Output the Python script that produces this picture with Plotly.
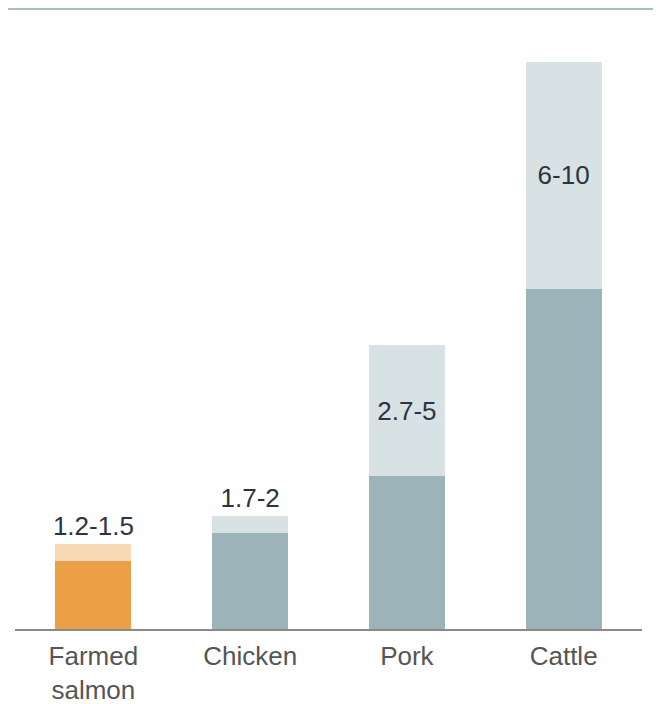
import plotly.graph_objects as go

categories = ["Farmed<br>salmon", "Chicken", "Pork", "Cattle"]
low_values = [1.2, 1.7, 2.7, 6]
high_values = [1.5, 2, 5, 10]
range_labels = ["1.2-1.5", "1.7-2", "2.7-5", "6-10"]

dark_colors = ["#eb9f46", "#9cb3ba", "#9cb3ba", "#9cb3ba"]
light_colors = ["#f7d9b6", "#d8e1e4", "#d8e1e4", "#d8e1e4"]
label_positions = ["outside", "outside", "inside", "inside"]

extra = [h - l for h, l in zip(high_values, low_values)]

FONT = "Liberation Sans, Arial, sans-serif"

fig = go.Figure()
fig.add_trace(go.Bar(
    x=categories, y=low_values, marker=dict(color=dark_colors, line=dict(width=0)),
    width=0.485, hoverinfo="skip", showlegend=False,
))
fig.add_trace(go.Bar(
    x=categories, y=extra, marker=dict(color=light_colors, line=dict(width=0)),
    width=0.485, text=range_labels, textposition=label_positions,
    insidetextanchor="middle", cliponaxis=False,
    textfont=dict(family=FONT, size=26, color="#2b3440"),
    insidetextfont=dict(family=FONT, size=26, color="#2b3440"),
    outsidetextfont=dict(family=FONT, size=26, color="#2b3440"),
    constraintext="none",
    hoverinfo="skip", showlegend=False,
))

fig.update_layout(
    barmode="stack",
    width=653, height=696,
    margin=dict(l=7, r=19, t=1, b=75, pad=0),
    paper_bgcolor="white", plot_bgcolor="white",
    font=dict(family=FONT),
    xaxis=dict(
        showline=True, linecolor="#8a8a8a", linewidth=1.5,
        ticks="outside", ticklen=3, tickcolor="rgba(0,0,0,0)",
        tickfont=dict(family=FONT, size=26, color="#555555"),
        showgrid=False, zeroline=False, automargin=False,
    ),
    yaxis=dict(
        range=[0, 10.93], visible=False, showgrid=False, zeroline=False,
        automargin=False,
    ),
    shapes=[dict(
        type="line", xref="paper", yref="paper",
        x0=-0.02, x1=1.04, y0=1, y1=1,
        line=dict(color="#a9bcc0", width=2),
    )],
)

fig.write_html("out.html")
